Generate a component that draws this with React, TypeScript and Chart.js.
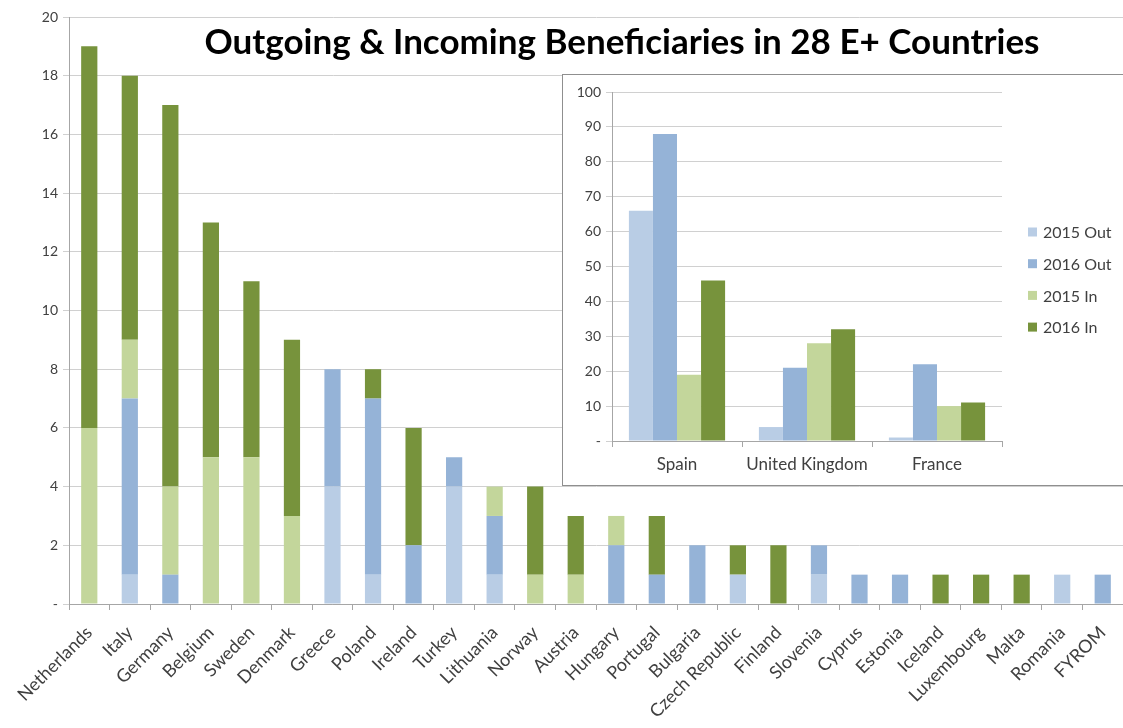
import React, { useEffect, useRef } from 'react';
import { Chart, registerables } from 'chart.js';

Chart.register(...registerables);

// ---------- data ----------
const chartTitle = 'Outgoing & Incoming Beneficiaries in 28 E+ Countries';

const countries = [
  'Netherlands', 'Italy', 'Germany', 'Belgium', 'Sweden', 'Denmark', 'Greece', 'Poland', 'Ireland',
  'Turkey', 'Lithuania', 'Norway', 'Austria', 'Hungary', 'Portugal', 'Bulgaria', 'Czech Republic',
  'Finland', 'Slovenia', 'Cyprus', 'Estonia', 'Iceland', 'Luxembourg', 'Malta', 'Romania', 'FYROM',
];
const out2015 = [0, 1, 0, 0, 0, 0, 4, 1, 0, 4, 1, 0, 0, 0, 0, 0, 1, 0, 1, 0, 0, 0, 0, 0, 1, 0];
const out2016 = [0, 6, 1, 0, 0, 0, 4, 6, 2, 1, 2, 0, 0, 2, 1, 2, 0, 0, 1, 1, 1, 0, 0, 0, 0, 1];
const in2015 = [6, 2, 3, 5, 5, 3, 0, 0, 0, 0, 1, 1, 1, 1, 0, 0, 0, 0, 0, 0, 0, 0, 0, 0, 0, 0];
const in2016 = [13, 9, 13, 8, 6, 6, 0, 1, 4, 0, 0, 3, 2, 0, 2, 0, 1, 2, 0, 0, 0, 1, 1, 1, 0, 0];

const insetCategories = ['Spain', 'United Kingdom', 'France'];
const insetOut2015 = [66, 4, 1];
const insetOut2016 = [88, 21, 22];
const insetIn2015 = [19, 28, 10];
const insetIn2016 = [46, 32, 11];

const seriesLabels = ['2015 Out', '2016 Out', '2015 In', '2016 In'];
const seriesColors = ['#B9CDE5', '#95B3D7', '#C3D69B', '#77933C'];

const mainYMax = 20;
const mainYStep = 2;
const insetYMax = 100;
const insetYStep = 10;
const zeroLabel = '-';

// ---------- styles ----------
const FONT = 'Lato, "Open Sans", "DejaVu Sans", sans-serif';
const TEXT = '#404040';
const GRID = '#d0d0d0';
const AXIS = '#a6a6a6';

const tickCb = (v: any) => (Number(v) === 0 ? zeroLabel : String(v));

const mainTitlePlugin = {
  id: 'mainTitle',
  afterDraw(chart: any) {
    const ctx = chart.ctx;
    ctx.save();
    ctx.font = `bold 35px ${FONT}`;
    ctx.fillStyle = '#000000';
    ctx.textAlign = 'center';
    ctx.textBaseline = 'middle';
    ctx.fillText(chartTitle, 622, 43, 835);
    ctx.restore();
  },
};

const insetLegendPlugin = {
  id: 'insetLegend',
  afterDraw(chart: any) {
    const ctx = chart.ctx;
    const x = chart.chartArea.right + 26;
    const y0 = 157;
    const gap = 31.7;
    ctx.save();
    ctx.font = `16px ${FONT}`;
    ctx.textAlign = 'left';
    ctx.textBaseline = 'middle';
    chart.data.datasets.forEach((ds: any, i: number) => {
      const y = y0 + i * gap;
      ctx.fillStyle = ds.backgroundColor;
      ctx.fillRect(x, y - 4.5, 9, 9);
      ctx.fillStyle = TEXT;
      ctx.fillText(ds.label, x + 15, y + 1);
    });
    ctx.restore();
  },
};

function MainChart() {
  const ref = useRef<HTMLCanvasElement | null>(null);
  useEffect(() => {
    if (!ref.current) return;
    const series = [out2015, out2016, in2015, in2016];
    const chart = new Chart(ref.current, {
      type: 'bar',
      data: {
        labels: countries,
        datasets: series.map((d, i) => ({
          label: seriesLabels[i],
          data: d,
          backgroundColor: seriesColors[i],
          borderWidth: 0,
          categoryPercentage: 1,
          barPercentage: 0.4,
        })),
      },
      options: {
        responsive: false,
        animation: false,
        layout: { padding: { top: 17, right: 0, left: 0, bottom: 0 } },
        plugins: { legend: { display: false }, title: { display: false }, tooltip: { enabled: false } },
        scales: {
          x: {
            stacked: true,
            grid: { display: true, drawOnChartArea: false, drawTicks: true, tickLength: 6, color: AXIS },
            border: { display: true, color: AXIS, width: 1 },
            ticks: {
              color: TEXT,
              font: { family: FONT, size: 18 },
              maxRotation: 45,
              minRotation: 45,
              autoSkip: false,
              padding: 12,
            },
            afterFit: (s: any) => {
              s.height = 124;
              s.paddingLeft = 0;
              s.paddingRight = 0;
            },
          },
          y: {
            stacked: true,
            min: 0,
            max: mainYMax,
            grid: { color: GRID, tickLength: 6, drawTicks: true },
            border: { display: true, color: AXIS, width: 1 },
            ticks: {
              stepSize: mainYStep,
              color: TEXT,
              font: { family: FONT, size: 14 },
              padding: 5,
              callback: tickCb,
            },
            afterFit: (s: any) => { s.width = 69; },
          },
        },
      },
      plugins: [mainTitlePlugin],
    });
    return () => chart.destroy();
  }, []);
  return <canvas ref={ref} width={1123} height={728} style={{ display: 'block' }} />;
}

function InsetChart() {
  const ref = useRef<HTMLCanvasElement | null>(null);
  useEffect(() => {
    if (!ref.current) return;
    const series = [insetOut2015, insetOut2016, insetIn2015, insetIn2016];
    const chart = new Chart(ref.current, {
      type: 'bar',
      data: {
        labels: insetCategories,
        datasets: series.map((d, i) => ({
          label: seriesLabels[i],
          data: d,
          backgroundColor: seriesColors[i],
          borderWidth: 0,
          categoryPercentage: 0.74,
          barPercentage: 1,
        })),
      },
      options: {
        responsive: false,
        animation: false,
        layout: { padding: { top: 17, right: 139, left: 0, bottom: 0 } },
        plugins: { legend: { display: false }, title: { display: false }, tooltip: { enabled: false } },
        scales: {
          x: {
            grid: { display: true, drawOnChartArea: false, drawTicks: true, tickLength: 6, color: AXIS },
            border: { display: true, color: AXIS, width: 1 },
            ticks: {
              color: TEXT,
              font: { family: FONT, size: 17 },
              maxRotation: 0,
              minRotation: 0,
              padding: 7,
            },
            afterFit: (s: any) => { s.height = 44; },
          },
          y: {
            min: 0,
            max: insetYMax,
            grid: { color: GRID, tickLength: 6, drawTicks: true },
            border: { display: true, color: AXIS, width: 1 },
            ticks: {
              stepSize: insetYStep,
              color: TEXT,
              font: { family: FONT, size: 14 },
              padding: 5,
              callback: tickCb,
            },
            afterFit: (s: any) => { s.width = 49; },
          },
        },
      },
      plugins: [insetLegendPlugin],
    });
    return () => chart.destroy();
  }, []);
  return <canvas ref={ref} width={578} height={410} style={{ display: 'block' }} />;
}

export default function App() {
  return (
    <div style={{ position: 'fixed', left: 0, top: 0, width: 1123, height: 728, background: '#ffffff', overflow: 'hidden' }}>
      <MainChart />
      <div
        style={{
          position: 'absolute',
          left: 562,
          top: 74,
          width: 578,
          height: 410,
          border: '1px solid #8f8f8f',
          background: '#ffffff',
        }}
      >
        <InsetChart />
      </div>
    </div>
  );
}
